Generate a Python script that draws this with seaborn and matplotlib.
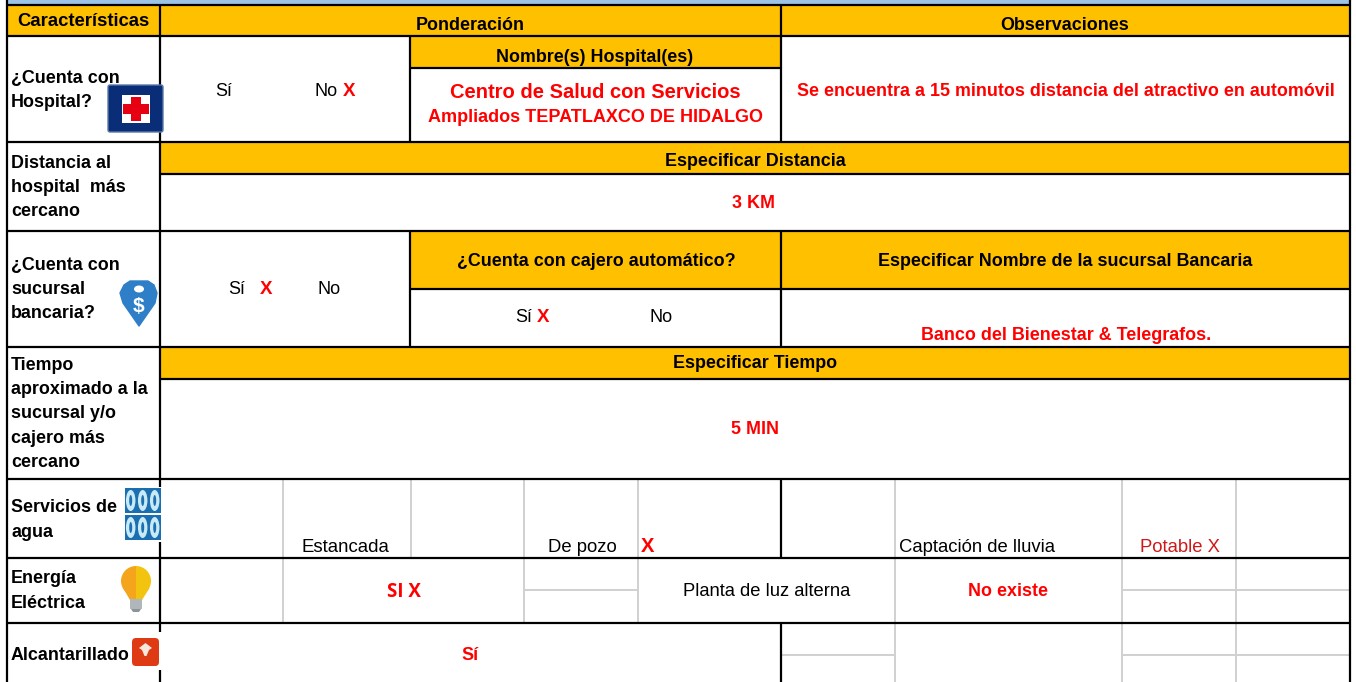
import numpy as np
import matplotlib
matplotlib.use("Agg")
import matplotlib.pyplot as plt
from matplotlib.colors import ListedColormap
from matplotlib.patches import FancyBboxPatch, Rectangle, Ellipse, Polygon, Wedge
import seaborn as sns

# Textos de la tabla
filas = ["Características", "¿Cuenta con\nHospital?", "Distancia al\nhospital  más\ncercano",
         "¿Cuenta con\nsucursal\nbancaria?", "Tiempo\naproximado a la\nsucursal y/o\ncajero más\ncercano",
         "Servicios de\nagua", "Energía\nEléctrica", "Alcantarillado"]
encabezados = ["Ponderación", "Observaciones", "Nombre(s) Hospital(es)", "Especificar Distancia",
               "¿Cuenta con cajero automático?", "Especificar Nombre de la sucursal Bancaria",
               "Especificar Tiempo"]
opciones = ["Sí", "No", "Sí", "No", "Sí", "No"]
marcas = ["X", "X", "X"]
rojos = ["Centro de Salud con Servicios", "Ampliados TEPATLAXCO DE HIDALGO",
         "Se encuentra a 15 minutos distancia del atractivo en automóvil", "3 KM",
         "Banco del Bienestar & Telegrafos.", "5 MIN", "No existe", "Sí"]
agua = ["Estancada", "De pozo", "Captación de lluvia"]
otros = ["Potable X", "Planta de luz alterna", "SI X"]

AZUL = "#9DC3E6"
AMARILLO = "#FFC000"
ROJO = "#FF0000"
GRIS = "#D0D0D0"
FUENTE = "Liberation Sans"

W, H = 1356, 682

# Fondos: 0 blanco, 1 amarillo, 2 azul
fondo = np.zeros((H, W), dtype=int)
fondo[0:5, 7:1351] = 2
fondo[6:36, 7:1351] = 1
fondo[37:68, 410:781] = 1
fondo[142:174, 160:1351] = 1
fondo[232:289, 410:1351] = 1
fondo[348:379, 160:1351] = 1

sns.set_theme(style="white")
fig = plt.figure(figsize=(W / 100, H / 100), dpi=100)
ax = fig.add_axes([0, 0, 1, 1])
sns.heatmap(fondo, ax=ax, cmap=ListedColormap(["white", AMARILLO, AZUL]), vmin=0, vmax=2,
            cbar=False, xticklabels=False, yticklabels=False)
ax.set_xlim(0, W)
ax.set_ylim(H, 0)
ax.axis("off")


def vline(x, y0, y1, c="black", lw=1.6):
    ax.plot([x, x], [y0, y1], color=c, lw=lw, solid_capstyle="butt", zorder=3)


def hline(y, x0, x1, c="black", lw=1.6):
    ax.plot([x0, x1], [y, y], color=c, lw=lw, solid_capstyle="butt", zorder=3)


def txt(x, y, s, c="black", w="normal", size=13, ha="center", va="center", **kw):
    ax.text(x, y, s, color=c, fontweight=w, fontsize=size, ha=ha, va=va, family=FUENTE, zorder=6, **kw)


# Lineas grises
for x in [283, 524, 638]:
    vline(x, 479, 623, GRIS, 1.4)
vline(411, 479, 558, GRIS, 1.4)
for x in [895, 1122, 1236]:
    vline(x, 479, 682, GRIS, 1.4)
hline(590, 524, 638, GRIS, 1.4)
hline(590, 1122, 1350, GRIS, 1.4)
hline(655, 781, 895, GRIS, 1.4)
hline(655, 1122, 1350, GRIS, 1.4)

# Lineas negras
vline(7, 0, 682)
vline(160, 5, 682)
vline(1350, 0, 682)
vline(410, 37, 141)
vline(410, 231, 347)
vline(781, 5, 141)
vline(781, 231, 347)
vline(781, 479, 558)
vline(781, 623, 682)
for y in [5, 36, 141.5, 347, 479, 558, 623]:
    hline(y, 7, 1350)
hline(68, 410, 781)
hline(174, 160, 1350)
hline(231, 7, 1350)
hline(289, 410, 1350)
hline(379, 160, 1350)

# Columna izquierda
txt(83, 21, filas[0], w="bold", size=13.3)
col_y = [90.5, 187.5, 289.5, 414, 520, 591, 656]
for s, y in zip(filas[1:], col_y):
    txt(11, y, s, w="bold", size=12.9, ha="left", linespacing=1.56)

# Encabezados
enc_xy = [(470, 25), (1065, 25), (595, 57), (755, 162), (596, 261), (1065, 261), (755, 364)]
for s, (x, y) in zip(encabezados, enc_xy):
    txt(x, y, s, w="bold", size=12.9)

# Opciones
op_xy = [(224, 91), (326, 91), (237, 289), (329, 289), (524, 318), (661, 318)]
for s, (x, y) in zip(opciones, op_xy):
    txt(x, y, s, size=13)
marca_xy = [(349, 91), (266, 289), (543, 318)]
for s, (x, y) in zip(marcas, marca_xy):
    txt(x, y, s, c=ROJO, w="bold", size=13.5)

# Textos en rojo
txt(595, 93, rojos[0], c=ROJO, w="bold", size=14.5)
txt(595, 118, rojos[1], c=ROJO, w="bold", size=13)
txt(1066, 91, rojos[2], c=ROJO, w="bold", size=12.9)
txt(754, 203, rojos[3], c=ROJO, w="bold", size=12.9)
txt(1066, 335, rojos[4], c=ROJO, w="bold", size=12.9)
txt(755, 429, rojos[5], c=ROJO, w="bold", size=12.9)
txt(1008, 591, rojos[6], c=ROJO, w="bold", size=12.9)
txt(470, 655, rojos[7], c=ROJO, w="bold", size=13)

# Servicios de agua y energia
txt(345, 547, agua[0], size=13.4)
txt(582, 547, agua[1], size=13.3)
txt(977, 547, agua[2], size=13.3)
txt(648, 547, marcas[0], c=ROJO, w="bold", size=14.5)
txt(1180, 547, otros[0], c="#D01818", size=13.3)
txt(767, 591, otros[1], size=13.2)
ax.text(404, 592, otros[2], color=ROJO, fontweight="bold", fontsize=13.5, ha="center", va="center",
        family="Open Sans", zorder=6)

# Iconos
# hospital
ax.add_patch(FancyBboxPatch((108, 85), 55, 47, boxstyle="round,pad=0,rounding_size=2",
                            fc="#0A2D78", ec="#5A78A8", lw=1, zorder=5))
ax.add_patch(Rectangle((122, 95), 28, 28, fc="white", ec="none", zorder=5))
ax.add_patch(Rectangle((123, 104), 26, 10, fc="#E60012", ec="none", zorder=5))
ax.add_patch(Rectangle((131, 97), 10, 24, fc="#E60012", ec="none", zorder=5))

# banco
ax.add_patch(Polygon([[130, 281], [148, 281], [154, 285], [157, 293], [155, 303], [139, 326],
                      [123, 303], [120, 293], [124, 285]],
                     fc="#2E7FC8", ec="#2E7FC8", lw=1, joinstyle="round", zorder=5))
ax.add_patch(Ellipse((139, 289), 10, 7, fc="white", ec="none", zorder=6))
ax.text(139, 306, "$", color="white", fontsize=15, fontweight="bold", ha="center", va="center",
        family=FUENTE, zorder=6)

# agua
ax.add_patch(Rectangle((124, 487), 38, 55, fc="white", ec="none", zorder=4))
for fx in [125, 137, 149]:
    for fy in [488, 515]:
        ax.add_patch(Rectangle((fx, fy), 11.5, 24.5, fc="#1B6FB0", ec="none", zorder=5))
        ax.add_patch(Ellipse((fx + 5.7, fy + 12.5), 9.5, 21, fc="#C8EAF6", ec="none", zorder=6))
        ax.add_patch(Ellipse((fx + 5.7, fy + 12.5), 3, 11, fc="#1B6FB0", ec="none", zorder=7))

# foco
ax.add_patch(Wedge((136, 581), 15, -90, 90, fc="#F2C40F", ec="none", zorder=5))
ax.add_patch(Wedge((136, 581), 15, 90, 270, fc="#F4A51C", ec="none", zorder=5))
ax.add_patch(Polygon([[122.5, 588], [136, 588], [136, 600], [130, 600]], fc="#F4A51C", ec="none", zorder=5))
ax.add_patch(Polygon([[136, 588], [149.5, 588], [142, 600], [136, 600]], fc="#F2C40F", ec="none", zorder=5))
ax.add_patch(Rectangle((130, 599), 12, 10, fc="#B0B7BA", ec="none", zorder=5))
ax.add_patch(Polygon([[131, 609], [141, 609], [139, 612], [133, 612]], fc="#8C9498", ec="none", zorder=5))

# alcantarillado
ax.add_patch(Rectangle((129, 632), 33, 38, fc="white", ec="none", zorder=4))
ax.add_patch(FancyBboxPatch((132, 638), 27, 28, boxstyle="round,pad=0,rounding_size=4",
                            fc="#DE3A14", ec="none", zorder=5))
ax.add_patch(Polygon([[139, 648], [145.5, 643], [152, 648], [149, 650], [146.5, 656], [144.5, 656], [142, 650]],
                     fc="#F7E8DC", ec="none", zorder=6))

fig.savefig("out.png", dpi=100)
